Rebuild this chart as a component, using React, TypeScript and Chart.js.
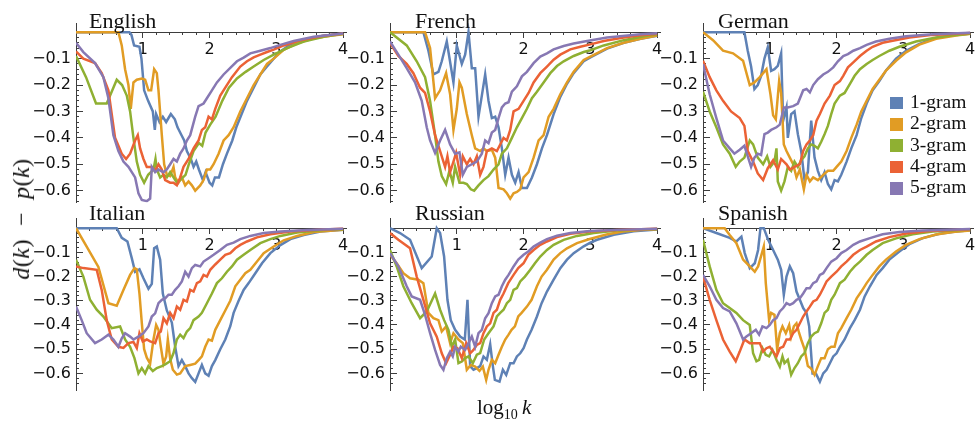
import React, { useEffect, useRef } from 'react';
import { Chart, registerables } from 'chart.js';

Chart.register(...registerables);

// ---------- data ----------
const seriesNames = ['1-gram', '2-gram', '3-gram', '4-gram', '5-gram'];
const seriesColors = ['#5E81B5', '#E19C24', '#8FB032', '#EB6235', '#8778B3'];
const xMajorTicks = [0, 1, 2, 3, 4];
const yMajorTicks = [-0.6, -0.5, -0.4, -0.3, -0.2, -0.1, 0];

const english1 = [[0,0],[0.8,0],[0.83,-0.01],[0.87,-0.05],[0.95,-0.055],[0.98,-0.1],[1.02,-0.22],[1.08,-0.26],[1.15,-0.3],[1.18,-0.37],[1.2,-0.31],[1.25,-0.34],[1.3,-0.32],[1.35,-0.34],[1.42,-0.31],[1.48,-0.33],[1.52,-0.36],[1.58,-0.39],[1.62,-0.41],[1.66,-0.45],[1.72,-0.48],[1.76,-0.51],[1.8,-0.49],[1.84,-0.52],[1.9,-0.56],[1.94,-0.53],[2.0,-0.57],[2.04,-0.58],[2.08,-0.55],[2.14,-0.55],[2.2,-0.5],[2.26,-0.46],[2.34,-0.41],[2.4,-0.36],[2.48,-0.31],[2.56,-0.26],[2.66,-0.21],[2.76,-0.16],[2.86,-0.13],[2.96,-0.1],[3.06,-0.073],[3.2,-0.048],[3.46,-0.025],[3.7,-0.013],[4.0,-0.005]];
const english2 = [[0,0],[0.635,0],[0.685,-0.05],[0.735,-0.14],[0.785,-0.2],[0.82,-0.29],[0.86,-0.19],[0.91,-0.18],[0.985,-0.175],[1.035,-0.18],[1.085,-0.22],[1.125,-0.22],[1.17,-0.14],[1.21,-0.155],[1.235,-0.22],[1.285,-0.39],[1.32,-0.5],[1.36,-0.54],[1.41,-0.545],[1.46,-0.51],[1.485,-0.55],[1.535,-0.57],[1.585,-0.55],[1.635,-0.58],[1.685,-0.565],[1.735,-0.58],[1.785,-0.6],[1.86,-0.58],[1.91,-0.56],[1.96,-0.52],[2.01,-0.52],[2.06,-0.5],[2.135,-0.46],[2.21,-0.41],[2.285,-0.39],[2.36,-0.36],[2.46,-0.3],[2.56,-0.25],[2.66,-0.2],[2.76,-0.16],[2.86,-0.12],[2.96,-0.1],[3.11,-0.067],[3.31,-0.042],[3.56,-0.023],[3.81,-0.013],[4.0,-0.008]];
const english3 = [[0,-0.09],[0.15,-0.17],[0.3,-0.27],[0.46,-0.27],[0.61,-0.18],[0.69,-0.2],[0.76,-0.24],[0.81,-0.3],[0.86,-0.4],[0.91,-0.49],[0.96,-0.54],[1.02,-0.57],[1.08,-0.54],[1.16,-0.52],[1.19,-0.48],[1.21,-0.52],[1.26,-0.55],[1.31,-0.54],[1.36,-0.55],[1.41,-0.53],[1.46,-0.55],[1.51,-0.57],[1.56,-0.56],[1.64,-0.54],[1.69,-0.5],[1.76,-0.45],[1.84,-0.42],[1.89,-0.43],[1.94,-0.38],[2.01,-0.35],[2.09,-0.32],[2.19,-0.26],[2.29,-0.21],[2.41,-0.175],[2.54,-0.15],[2.66,-0.13],[2.81,-0.105],[2.96,-0.085],[3.16,-0.06],[3.41,-0.035],[3.71,-0.017],[4.0,-0.006]];
const english4 = [[0,-0.073],[0.11,-0.1],[0.285,-0.117],[0.385,-0.155],[0.485,-0.22],[0.585,-0.4],[0.685,-0.46],[0.75,-0.48],[0.81,-0.46],[0.885,-0.41],[0.925,-0.39],[0.96,-0.44],[1.01,-0.48],[1.06,-0.51],[1.135,-0.51],[1.185,-0.525],[1.235,-0.5],[1.285,-0.52],[1.335,-0.56],[1.41,-0.57],[1.46,-0.57],[1.51,-0.58],[1.56,-0.55],[1.61,-0.51],[1.685,-0.48],[1.76,-0.44],[1.835,-0.41],[1.885,-0.37],[1.935,-0.36],[1.985,-0.32],[2.035,-0.33],[2.085,-0.29],[2.16,-0.24],[2.235,-0.21],[2.335,-0.17],[2.46,-0.13],[2.56,-0.11],[2.66,-0.095],[2.76,-0.085],[2.86,-0.075],[2.96,-0.066],[3.11,-0.05],[3.36,-0.03],[3.66,-0.015],[4.0,-0.005]];
const english5 = [[0,-0.04],[0.11,-0.075],[0.285,-0.117],[0.41,-0.17],[0.485,-0.25],[0.56,-0.39],[0.635,-0.45],[0.71,-0.49],[0.785,-0.51],[0.885,-0.55],[0.935,-0.61],[0.985,-0.635],[1.06,-0.64],[1.11,-0.63],[1.135,-0.51],[1.185,-0.53],[1.235,-0.52],[1.31,-0.53],[1.36,-0.52],[1.41,-0.5],[1.46,-0.48],[1.51,-0.49],[1.56,-0.46],[1.61,-0.44],[1.66,-0.41],[1.71,-0.39],[1.785,-0.32],[1.835,-0.28],[1.91,-0.27],[1.96,-0.25],[2.035,-0.22],[2.11,-0.19],[2.21,-0.16],[2.31,-0.135],[2.41,-0.11],[2.51,-0.096],[2.61,-0.08],[2.76,-0.07],[2.91,-0.06],[3.06,-0.048],[3.26,-0.033],[3.56,-0.017],[4.0,-0.005]];

const french1 = [[0,0],[0.5,0],[0.575,-0.07],[0.65,-0.16],[0.725,-0.15],[0.775,-0.11],[0.85,-0.035],[0.95,-0.19],[1.0,-0.05],[1.075,-0.12],[1.125,-0.085],[1.175,0],[1.225,-0.136],[1.275,-0.136],[1.325,-0.32],[1.375,-0.24],[1.425,-0.16],[1.475,-0.26],[1.525,-0.325],[1.575,-0.32],[1.625,-0.36],[1.675,-0.44],[1.725,-0.54],[1.775,-0.475],[1.825,-0.54],[1.875,-0.57],[1.925,-0.53],[1.975,-0.59],[2.05,-0.59],[2.125,-0.55],[2.2,-0.5],[2.275,-0.44],[2.35,-0.39],[2.45,-0.31],[2.55,-0.245],[2.65,-0.195],[2.75,-0.155],[2.9,-0.11],[3.0,-0.095],[3.25,-0.062],[3.5,-0.04],[3.75,-0.025],[4.0,-0.013]];
const french2 = [[0,0],[0.525,0],[0.6,-0.06],[0.675,-0.25],[0.75,-0.22],[0.84,-0.155],[0.9,-0.235],[0.95,-0.37],[1.0,-0.29],[1.04,-0.19],[1.075,-0.21],[1.15,-0.31],[1.225,-0.39],[1.275,-0.44],[1.35,-0.45],[1.4,-0.44],[1.45,-0.45],[1.525,-0.445],[1.575,-0.475],[1.625,-0.59],[1.7,-0.595],[1.75,-0.61],[1.8,-0.63],[1.85,-0.61],[1.9,-0.605],[1.95,-0.595],[2.0,-0.55],[2.075,-0.53],[2.15,-0.475],[2.225,-0.41],[2.3,-0.39],[2.375,-0.32],[2.45,-0.29],[2.55,-0.235],[2.65,-0.19],[2.75,-0.15],[2.9,-0.105],[3.0,-0.092],[3.25,-0.06],[3.5,-0.04],[3.75,-0.025],[4.0,-0.012]];
const french3 = [[0,0],[0.1,-0.02],[0.25,-0.05],[0.4,-0.11],[0.525,-0.17],[0.6,-0.26],[0.675,-0.39],[0.725,-0.49],[0.775,-0.545],[0.84,-0.575],[0.89,-0.525],[0.94,-0.57],[0.975,-0.51],[1.04,-0.57],[1.1,-0.57],[1.15,-0.575],[1.21,-0.595],[1.26,-0.6],[1.325,-0.58],[1.4,-0.56],[1.475,-0.545],[1.55,-0.52],[1.625,-0.5],[1.675,-0.46],[1.75,-0.44],[1.825,-0.4],[1.9,-0.36],[1.975,-0.325],[2.05,-0.29],[2.125,-0.25],[2.2,-0.225],[2.3,-0.19],[2.4,-0.155],[2.5,-0.128],[2.6,-0.11],[2.75,-0.09],[2.9,-0.075],[3.0,-0.068],[3.2,-0.05],[3.5,-0.03],[3.8,-0.015],[4.0,-0.008]];
const french4 = [[0,-0.04],[0.125,-0.09],[0.25,-0.12],[0.35,-0.155],[0.45,-0.21],[0.525,-0.23],[0.6,-0.3],[0.675,-0.39],[0.75,-0.45],[0.825,-0.51],[0.86,-0.47],[0.9,-0.53],[0.95,-0.49],[0.99,-0.457],[1.05,-0.54],[1.09,-0.47],[1.15,-0.5],[1.2,-0.48],[1.25,-0.5],[1.3,-0.47],[1.35,-0.54],[1.4,-0.51],[1.45,-0.45],[1.525,-0.44],[1.6,-0.45],[1.65,-0.425],[1.7,-0.4],[1.75,-0.41],[1.8,-0.37],[1.85,-0.3],[1.925,-0.29],[2.0,-0.26],[2.075,-0.23],[2.15,-0.19],[2.25,-0.155],[2.35,-0.13],[2.45,-0.104],[2.55,-0.085],[2.7,-0.065],[2.85,-0.055],[3.0,-0.046],[3.2,-0.033],[3.5,-0.02],[3.8,-0.01],[4.0,-0.006]];
const french5 = [[0,-0.035],[0.125,-0.085],[0.25,-0.136],[0.375,-0.19],[0.475,-0.26],[0.55,-0.36],[0.6,-0.41],[0.675,-0.457],[0.75,-0.41],[0.825,-0.37],[0.9,-0.425],[0.975,-0.46],[1.04,-0.455],[1.09,-0.54],[1.15,-0.51],[1.225,-0.5],[1.3,-0.49],[1.375,-0.46],[1.425,-0.41],[1.475,-0.42],[1.525,-0.38],[1.575,-0.37],[1.625,-0.325],[1.675,-0.285],[1.725,-0.27],[1.775,-0.265],[1.825,-0.225],[1.9,-0.205],[1.975,-0.167],[2.05,-0.15],[2.15,-0.117],[2.25,-0.092],[2.35,-0.08],[2.45,-0.065],[2.6,-0.052],[2.75,-0.043],[2.95,-0.033],[3.25,-0.02],[3.75,-0.008],[4.0,-0.004]];

const german1 = [[0,0],[0.62,0],[0.67,-0.07],[0.72,-0.13],[0.77,-0.215],[0.82,-0.2],[0.87,-0.165],[0.92,-0.1],[0.97,-0.057],[1.02,-0.146],[1.07,-0.14],[1.12,-0.127],[1.17,-0.08],[1.2,-0.335],[1.25,-0.285],[1.27,-0.4],[1.32,-0.31],[1.37,-0.3],[1.42,-0.386],[1.47,-0.45],[1.52,-0.56],[1.57,-0.53],[1.62,-0.335],[1.67,-0.475],[1.72,-0.525],[1.77,-0.56],[1.82,-0.53],[1.87,-0.575],[1.92,-0.595],[1.97,-0.56],[2.02,-0.565],[2.07,-0.54],[2.15,-0.49],[2.22,-0.44],[2.3,-0.39],[2.37,-0.325],[2.45,-0.27],[2.54,-0.22],[2.64,-0.185],[2.74,-0.145],[2.89,-0.1],[3.04,-0.07],[3.24,-0.044],[3.49,-0.022],[3.79,-0.01],[4.0,-0.005]];
const german2 = [[0,0],[0.15,-0.03],[0.3,-0.07],[0.45,-0.08],[0.6,-0.108],[0.7,-0.2],[0.77,-0.19],[0.85,-0.17],[0.95,-0.14],[1.01,-0.235],[1.05,-0.315],[1.09,-0.33],[1.14,-0.185],[1.17,-0.23],[1.21,-0.425],[1.25,-0.45],[1.3,-0.475],[1.35,-0.5],[1.4,-0.55],[1.45,-0.52],[1.51,-0.595],[1.55,-0.54],[1.6,-0.565],[1.65,-0.55],[1.72,-0.56],[1.8,-0.54],[1.87,-0.525],[1.95,-0.525],[2.0,-0.51],[2.07,-0.49],[2.15,-0.45],[2.22,-0.4],[2.3,-0.35],[2.37,-0.3],[2.45,-0.26],[2.54,-0.215],[2.64,-0.18],[2.74,-0.145],[2.89,-0.108],[3.04,-0.076],[3.24,-0.047],[3.49,-0.025],[3.79,-0.012],[4.0,-0.006]];
const german3 = [[0,-0.225],[0.1,-0.3],[0.2,-0.36],[0.3,-0.425],[0.4,-0.46],[0.49,-0.51],[0.55,-0.49],[0.62,-0.475],[0.7,-0.41],[0.75,-0.425],[0.82,-0.475],[0.9,-0.5],[0.96,-0.47],[1.01,-0.51],[1.07,-0.49],[1.1,-0.44],[1.12,-0.565],[1.17,-0.6],[1.22,-0.565],[1.27,-0.51],[1.32,-0.525],[1.37,-0.49],[1.42,-0.51],[1.47,-0.485],[1.52,-0.47],[1.57,-0.44],[1.62,-0.425],[1.67,-0.43],[1.72,-0.44],[1.77,-0.415],[1.82,-0.386],[1.87,-0.355],[1.92,-0.31],[1.97,-0.27],[2.05,-0.24],[2.12,-0.23],[2.2,-0.196],[2.27,-0.165],[2.35,-0.14],[2.45,-0.12],[2.54,-0.105],[2.64,-0.09],[2.79,-0.07],[2.94,-0.055],[3.19,-0.035],[3.49,-0.02],[3.8,-0.01],[4.0,-0.006]];
const german4 = [[0,-0.108],[0.1,-0.17],[0.2,-0.22],[0.3,-0.26],[0.42,-0.3],[0.55,-0.325],[0.62,-0.355],[0.67,-0.45],[0.75,-0.49],[0.82,-0.535],[0.9,-0.56],[0.97,-0.515],[1.05,-0.485],[1.12,-0.52],[1.17,-0.48],[1.25,-0.5],[1.3,-0.52],[1.37,-0.51],[1.45,-0.5],[1.5,-0.45],[1.55,-0.425],[1.6,-0.41],[1.65,-0.39],[1.7,-0.335],[1.75,-0.31],[1.82,-0.27],[1.9,-0.24],[1.97,-0.2],[2.05,-0.185],[2.1,-0.165],[2.17,-0.133],[2.25,-0.114],[2.35,-0.09],[2.45,-0.07],[2.54,-0.055],[2.69,-0.04],[2.84,-0.032],[3.09,-0.02],[3.44,-0.01],[4.0,-0.003]];
const german5 = [[0,-0.12],[0.1,-0.235],[0.2,-0.325],[0.3,-0.41],[0.4,-0.44],[0.47,-0.46],[0.55,-0.445],[0.62,-0.43],[0.67,-0.47],[0.72,-0.51],[0.77,-0.475],[0.82,-0.46],[0.87,-0.465],[0.92,-0.386],[0.97,-0.38],[1.02,-0.37],[1.1,-0.36],[1.15,-0.35],[1.21,-0.285],[1.27,-0.285],[1.35,-0.28],[1.42,-0.27],[1.5,-0.22],[1.55,-0.215],[1.6,-0.228],[1.65,-0.2],[1.72,-0.178],[1.8,-0.16],[1.87,-0.15],[1.95,-0.133],[2.02,-0.11],[2.1,-0.09],[2.17,-0.083],[2.25,-0.07],[2.35,-0.06],[2.45,-0.048],[2.59,-0.035],[2.79,-0.025],[3.04,-0.015],[3.44,-0.008],[4.0,-0.002]];

const italian1 = [[0,0],[0.61,0],[0.685,-0.04],[0.77,-0.055],[0.835,-0.124],[0.885,-0.18],[0.95,-0.17],[1.01,-0.207],[1.085,-0.25],[1.135,-0.23],[1.17,-0.083],[1.21,-0.076],[1.26,-0.13],[1.3,-0.27],[1.36,-0.34],[1.435,-0.39],[1.485,-0.49],[1.535,-0.57],[1.585,-0.545],[1.635,-0.57],[1.685,-0.6],[1.735,-0.62],[1.785,-0.635],[1.835,-0.6],[1.885,-0.565],[1.935,-0.6],[1.985,-0.61],[2.035,-0.57],[2.085,-0.545],[2.16,-0.5],[2.235,-0.46],[2.31,-0.405],[2.36,-0.35],[2.435,-0.3],[2.51,-0.255],[2.585,-0.227],[2.685,-0.186],[2.785,-0.145],[2.91,-0.103],[3.06,-0.07],[3.21,-0.045],[3.41,-0.028],[3.66,-0.014],[4.0,-0.006]];
const italian2 = [[0,0],[0.16,-0.076],[0.335,-0.16],[0.485,-0.31],[0.61,-0.32],[0.71,-0.255],[0.81,-0.193],[0.875,-0.165],[0.91,-0.17],[0.95,-0.27],[0.985,-0.39],[1.02,-0.5],[1.06,-0.535],[1.11,-0.56],[1.16,-0.46],[1.2,-0.4],[1.235,-0.42],[1.27,-0.49],[1.31,-0.56],[1.35,-0.53],[1.375,-0.46],[1.41,-0.54],[1.45,-0.585],[1.51,-0.605],[1.56,-0.6],[1.635,-0.57],[1.71,-0.565],[1.785,-0.56],[1.835,-0.545],[1.885,-0.53],[1.935,-0.49],[1.985,-0.46],[2.035,-0.465],[2.085,-0.42],[2.16,-0.38],[2.235,-0.34],[2.31,-0.3],[2.385,-0.24],[2.46,-0.213],[2.535,-0.186],[2.61,-0.172],[2.71,-0.138],[2.81,-0.103],[2.96,-0.076],[3.11,-0.05],[3.31,-0.032],[3.56,-0.016],[4.0,-0.006]];
const italian3 = [[0,-0.13],[0.11,-0.2],[0.21,-0.296],[0.31,-0.337],[0.41,-0.365],[0.535,-0.413],[0.66,-0.406],[0.735,-0.46],[0.81,-0.49],[0.875,-0.537],[0.935,-0.6],[0.985,-0.578],[1.035,-0.6],[1.085,-0.57],[1.15,-0.59],[1.21,-0.578],[1.285,-0.57],[1.335,-0.563],[1.41,-0.55],[1.46,-0.516],[1.51,-0.46],[1.56,-0.44],[1.61,-0.454],[1.66,-0.427],[1.71,-0.413],[1.76,-0.38],[1.835,-0.365],[1.885,-0.35],[1.96,-0.31],[2.035,-0.27],[2.11,-0.227],[2.185,-0.207],[2.26,-0.18],[2.335,-0.158],[2.41,-0.13],[2.51,-0.11],[2.61,-0.09],[2.76,-0.062],[2.91,-0.045],[3.06,-0.032],[3.31,-0.018],[3.71,-0.008],[4.0,-0.004]];
const italian4 = [[0,-0.158],[0.11,-0.165],[0.31,-0.172],[0.385,-0.255],[0.46,-0.38],[0.535,-0.46],[0.635,-0.49],[0.71,-0.495],[0.785,-0.475],[0.86,-0.47],[0.91,-0.495],[0.95,-0.434],[1.0,-0.468],[1.06,-0.46],[1.11,-0.468],[1.185,-0.475],[1.235,-0.434],[1.27,-0.427],[1.31,-0.372],[1.36,-0.393],[1.41,-0.35],[1.46,-0.372],[1.51,-0.324],[1.56,-0.337],[1.61,-0.296],[1.66,-0.303],[1.71,-0.255],[1.76,-0.262],[1.81,-0.227],[1.86,-0.22],[1.91,-0.193],[1.96,-0.2],[2.01,-0.172],[2.085,-0.15],[2.16,-0.13],[2.235,-0.11],[2.31,-0.103],[2.385,-0.083],[2.46,-0.069],[2.56,-0.055],[2.71,-0.038],[2.91,-0.025],[3.21,-0.014],[3.71,-0.005],[4.0,-0.002]];
const italian5 = [[0,-0.324],[0.085,-0.38],[0.16,-0.434],[0.285,-0.475],[0.385,-0.46],[0.485,-0.44],[0.56,-0.46],[0.635,-0.49],[0.685,-0.455],[0.735,-0.434],[0.81,-0.448],[0.86,-0.46],[0.935,-0.448],[1.01,-0.434],[1.085,-0.406],[1.135,-0.365],[1.185,-0.352],[1.235,-0.31],[1.285,-0.296],[1.335,-0.29],[1.385,-0.275],[1.435,-0.275],[1.485,-0.255],[1.535,-0.24],[1.585,-0.22],[1.635,-0.18],[1.685,-0.2],[1.735,-0.165],[1.785,-0.152],[1.86,-0.158],[1.91,-0.138],[1.985,-0.124],[2.06,-0.11],[2.16,-0.09],[2.26,-0.069],[2.36,-0.06],[2.46,-0.045],[2.61,-0.032],[2.81,-0.02],[3.06,-0.014],[3.46,-0.008],[4.0,-0.002]];

const russian1 = [[0,0],[0.15,-0.02],[0.3,-0.048],[0.475,-0.165],[0.625,-0.117],[0.7,0],[0.75,-0.02],[0.81,-0.117],[0.86,-0.296],[0.91,-0.38],[0.975,-0.42],[1.05,-0.448],[1.12,-0.46],[1.16,-0.296],[1.2,-0.57],[1.25,-0.585],[1.3,-0.578],[1.35,-0.57],[1.4,-0.53],[1.45,-0.544],[1.5,-0.48],[1.54,-0.57],[1.57,-0.627],[1.64,-0.634],[1.69,-0.585],[1.74,-0.606],[1.8,-0.558],[1.85,-0.558],[1.9,-0.53],[1.95,-0.517],[2.0,-0.496],[2.05,-0.46],[2.12,-0.42],[2.2,-0.365],[2.27,-0.31],[2.35,-0.262],[2.45,-0.213],[2.55,-0.165],[2.65,-0.13],[2.75,-0.103],[2.9,-0.075],[3.0,-0.06],[3.1,-0.048],[3.35,-0.027],[3.65,-0.013],[4.0,-0.005]];
const russian2 = [[0,-0.11],[0.1,-0.145],[0.2,-0.186],[0.3,-0.207],[0.425,-0.213],[0.5,-0.227],[0.575,-0.35],[0.65,-0.372],[0.725,-0.38],[0.775,-0.427],[0.84,-0.406],[0.9,-0.475],[0.95,-0.434],[1.025,-0.46],[1.09,-0.475],[1.15,-0.585],[1.21,-0.565],[1.275,-0.572],[1.34,-0.59],[1.39,-0.572],[1.44,-0.627],[1.475,-0.585],[1.525,-0.544],[1.575,-0.558],[1.625,-0.523],[1.675,-0.49],[1.725,-0.46],[1.775,-0.44],[1.82,-0.42],[1.87,-0.406],[1.92,-0.365],[1.97,-0.35],[2.05,-0.324],[2.12,-0.296],[2.2,-0.24],[2.27,-0.2],[2.35,-0.172],[2.45,-0.13],[2.55,-0.103],[2.65,-0.083],[2.8,-0.062],[2.99,-0.045],[3.24,-0.026],[3.49,-0.014],[3.74,-0.008],[4.0,-0.004]];
const russian3 = [[0,-0.09],[0.1,-0.158],[0.2,-0.24],[0.325,-0.31],[0.45,-0.372],[0.55,-0.344],[0.675,-0.27],[0.75,-0.337],[0.81,-0.38],[0.875,-0.42],[0.925,-0.49],[0.975,-0.46],[1.025,-0.558],[1.075,-0.551],[1.125,-0.537],[1.175,-0.53],[1.24,-0.558],[1.3,-0.523],[1.35,-0.516],[1.41,-0.46],[1.475,-0.434],[1.55,-0.406],[1.6,-0.365],[1.65,-0.35],[1.7,-0.337],[1.75,-0.31],[1.8,-0.296],[1.85,-0.255],[1.9,-0.248],[1.95,-0.22],[2.02,-0.2],[2.1,-0.172],[2.17,-0.145],[2.25,-0.117],[2.35,-0.09],[2.45,-0.069],[2.6,-0.048],[2.8,-0.032],[3.05,-0.02],[3.4,-0.01],[4.0,-0.003]];
const russian4 = [[0,-0.02],[0.125,-0.048],[0.3,-0.083],[0.4,-0.2],[0.5,-0.296],[0.6,-0.393],[0.7,-0.448],[0.775,-0.517],[0.84,-0.558],[0.9,-0.523],[0.95,-0.49],[1.01,-0.496],[1.075,-0.537],[1.14,-0.475],[1.2,-0.517],[1.25,-0.503],[1.3,-0.482],[1.35,-0.475],[1.4,-0.434],[1.45,-0.406],[1.5,-0.393],[1.55,-0.35],[1.6,-0.337],[1.65,-0.296],[1.7,-0.27],[1.77,-0.227],[1.85,-0.193],[1.92,-0.165],[2.0,-0.145],[2.07,-0.11],[2.15,-0.09],[2.25,-0.069],[2.35,-0.055],[2.5,-0.037],[2.7,-0.023],[2.99,-0.014],[3.4,-0.008],[4.0,-0.002]];
const russian5 = [[0,-0.103],[0.125,-0.158],[0.25,-0.24],[0.325,-0.282],[0.45,-0.296],[0.525,-0.358],[0.6,-0.434],[0.675,-0.503],[0.75,-0.565],[0.8,-0.585],[0.85,-0.537],[0.9,-0.51],[0.94,-0.53],[0.975,-0.49],[1.025,-0.51],[1.06,-0.49],[1.125,-0.503],[1.175,-0.475],[1.225,-0.448],[1.275,-0.49],[1.325,-0.434],[1.375,-0.42],[1.425,-0.372],[1.475,-0.351],[1.525,-0.31],[1.575,-0.282],[1.625,-0.275],[1.675,-0.24],[1.725,-0.213],[1.775,-0.193],[1.85,-0.158],[1.92,-0.13],[2.0,-0.11],[2.07,-0.096],[2.15,-0.076],[2.25,-0.06],[2.35,-0.045],[2.5,-0.031],[2.7,-0.02],[2.99,-0.012],[3.4,-0.007],[4.0,-0.002]];

const spanish1 = [[0,0],[0.2,-0.02],[0.4,-0.04],[0.5,-0.055],[0.575,-0.035],[0.625,-0.103],[0.7,-0.165],[0.775,-0.145],[0.825,-0.09],[0.86,0],[0.91,0],[0.975,-0.048],[1.05,-0.09],[1.12,-0.13],[1.17,-0.172],[1.21,-0.275],[1.25,-0.2],[1.3,-0.158],[1.35,-0.186],[1.4,-0.262],[1.45,-0.296],[1.5,-0.33],[1.55,-0.35],[1.59,-0.406],[1.64,-0.6],[1.69,-0.6],[1.75,-0.634],[1.8,-0.6],[1.85,-0.585],[1.9,-0.558],[1.95,-0.53],[2.0,-0.517],[2.05,-0.49],[2.12,-0.46],[2.2,-0.413],[2.27,-0.38],[2.35,-0.337],[2.42,-0.282],[2.5,-0.24],[2.6,-0.193],[2.69,-0.165],[2.79,-0.13],[2.94,-0.096],[3.09,-0.066],[3.29,-0.041],[3.54,-0.023],[3.79,-0.014],[4.0,-0.009]];
const spanish2 = [[0,0],[0.325,0],[0.4,-0.028],[0.5,-0.062],[0.6,-0.13],[0.7,-0.158],[0.775,-0.18],[0.825,-0.158],[0.875,-0.11],[0.91,-0.076],[0.94,-0.227],[0.99,-0.38],[1.02,-0.35],[1.07,-0.358],[1.11,-0.5],[1.15,-0.434],[1.19,-0.406],[1.24,-0.434],[1.29,-0.4],[1.32,-0.448],[1.36,-0.406],[1.4,-0.393],[1.44,-0.434],[1.47,-0.46],[1.52,-0.5],[1.57,-0.57],[1.62,-0.58],[1.67,-0.606],[1.72,-0.57],[1.77,-0.537],[1.82,-0.537],[1.87,-0.5],[1.92,-0.49],[1.97,-0.49],[2.02,-0.434],[2.07,-0.413],[2.15,-0.372],[2.22,-0.337],[2.3,-0.29],[2.37,-0.262],[2.45,-0.227],[2.54,-0.193],[2.64,-0.158],[2.74,-0.13],[2.89,-0.096],[3.04,-0.069],[3.24,-0.045],[3.49,-0.026],[3.74,-0.016],[4.0,-0.01]];
const spanish3 = [[0,-0.048],[0.1,-0.158],[0.2,-0.255],[0.3,-0.31],[0.4,-0.33],[0.5,-0.35],[0.6,-0.38],[0.7,-0.4],[0.75,-0.517],[0.8,-0.55],[0.84,-0.544],[0.89,-0.496],[0.94,-0.523],[0.99,-0.53],[1.04,-0.503],[1.1,-0.544],[1.15,-0.572],[1.19,-0.53],[1.22,-0.558],[1.27,-0.544],[1.32,-0.606],[1.37,-0.578],[1.42,-0.558],[1.47,-0.53],[1.52,-0.516],[1.57,-0.475],[1.62,-0.448],[1.67,-0.434],[1.72,-0.427],[1.77,-0.393],[1.82,-0.35],[1.87,-0.337],[1.92,-0.296],[1.97,-0.275],[2.05,-0.227],[2.12,-0.213],[2.2,-0.18],[2.27,-0.158],[2.35,-0.138],[2.45,-0.11],[2.54,-0.09],[2.69,-0.062],[2.89,-0.042],[3.14,-0.025],[3.44,-0.014],[4.0,-0.005]];
const spanish4 = [[0,-0.2],[0.1,-0.296],[0.2,-0.38],[0.3,-0.46],[0.4,-0.51],[0.49,-0.55],[0.55,-0.51],[0.62,-0.46],[0.7,-0.475],[0.77,-0.475],[0.85,-0.475],[0.9,-0.51],[0.95,-0.496],[1.0,-0.49],[1.05,-0.51],[1.1,-0.53],[1.15,-0.496],[1.2,-0.49],[1.25,-0.46],[1.3,-0.46],[1.35,-0.434],[1.4,-0.42],[1.45,-0.393],[1.5,-0.365],[1.55,-0.344],[1.6,-0.324],[1.65,-0.303],[1.7,-0.296],[1.75,-0.275],[1.8,-0.248],[1.85,-0.22],[1.92,-0.2],[2.0,-0.18],[2.07,-0.158],[2.15,-0.138],[2.25,-0.11],[2.35,-0.09],[2.45,-0.076],[2.59,-0.055],[2.79,-0.037],[3.04,-0.022],[3.39,-0.012],[4.0,-0.004]];
const spanish5 = [[0,-0.193],[0.1,-0.24],[0.2,-0.296],[0.3,-0.33],[0.4,-0.344],[0.5,-0.393],[0.6,-0.46],[0.65,-0.448],[0.72,-0.434],[0.79,-0.42],[0.84,-0.44],[0.89,-0.406],[0.95,-0.413],[1.0,-0.4],[1.05,-0.38],[1.1,-0.372],[1.15,-0.344],[1.2,-0.33],[1.25,-0.31],[1.3,-0.317],[1.35,-0.31],[1.4,-0.296],[1.45,-0.29],[1.5,-0.27],[1.55,-0.248],[1.6,-0.248],[1.65,-0.227],[1.7,-0.22],[1.75,-0.193],[1.8,-0.186],[1.85,-0.165],[1.92,-0.138],[2.0,-0.124],[2.07,-0.103],[2.15,-0.09],[2.25,-0.069],[2.35,-0.055],[2.5,-0.041],[2.69,-0.025],[2.94,-0.016],[3.29,-0.01],[4.0,-0.003]];

const panelTitles = ['English', 'French', 'German', 'Italian', 'Russian', 'Spanish'];
const panelSeries = [
  [english1, english2, english3, english4, english5],
  [french1, french2, french3, french4, french5],
  [german1, german2, german3, german4, german5],
  [italian1, italian2, italian3, italian4, italian5],
  [russian1, russian2, russian3, russian4, russian5],
  [spanish1, spanish2, spanish3, spanish4, spanish5],
];

// ---------- layout ----------
const X_MAX = 4.05;
const AXIS_W = 60;
const CANVAS_W = 346;
const PLOT_W = 270.5;
const COL_LEFT = [76, 390, 703];
const TITLE_LEFT = [89, 415, 718];
const ROWS = [
  { canvasTop: 0, canvasH: 220, padTop: 23, yMin: -0.645, yMax: 0.035, pxPerUnit: 264, titleTop: 9.9 },
  { canvasTop: 200, canvasH: 215, padTop: 18.5, yMin: -0.67, yMax: 0.04, pxPerUnit: 242, titleTop: 202.3 },
];
const AXIS_COLOR = '#3d3d3d';
const TICK_FONT = { family: "'DejaVu Sans', sans-serif", size: 16 };
const SERIF = "'Liberation Serif', 'Times New Roman', serif";

function range(from: number, to: number, div: number) {
  const out: number[] = [];
  for (let i = from; i <= to; i++) out.push(i / div);
  return out;
}

function Panel({ index }: { index: number }) {
  const ref = useRef<HTMLCanvasElement>(null);
  const row = ROWS[Math.floor(index / 3)];
  const col = index % 3;
  const chartH = (row.yMax - row.yMin) * row.pxPerUnit;
  const padBottom = row.canvasH - row.padTop - chartH;
  const padRight = CANVAS_W - AXIS_W - PLOT_W;

  useEffect(() => {
    const datasets = panelSeries[index].map((pts, i) => ({
      label: seriesNames[i],
      data: pts.map(([x, y]) => ({ x, y })),
      borderColor: seriesColors[i],
      backgroundColor: seriesColors[i],
      borderWidth: 2.5,
      pointRadius: 0,
      tension: 0,
      fill: false,
      order: 5 - i,
      xAxisID: 'x',
      yAxisID: 'y',
    }));
    const chart = new Chart(ref.current as HTMLCanvasElement, {
      type: 'line',
      data: { datasets },
      options: {
        animation: false,
        responsive: false,
        maintainAspectRatio: false,
        events: [],
        layout: { padding: { left: 0, right: padRight, top: row.padTop, bottom: padBottom } },
        plugins: { legend: { display: false }, tooltip: { enabled: false }, title: { display: false } },
        scales: {
          x: {
            type: 'linear',
            min: 0,
            max: X_MAX,
            position: { y: 0 },
            afterBuildTicks: (s: any) => { s.ticks = xMajorTicks.map((v) => ({ value: v })); },
            ticks: {
              font: TICK_FONT,
              color: '#111',
              padding: 3,
              maxRotation: 0,
              autoSkip: false,
              callback: (v: any) => (Number(v) === 0 ? '' : String(v)),
            },
            grid: { drawOnChartArea: false, drawTicks: true, tickLength: 5, tickColor: AXIS_COLOR, tickWidth: 1 },
            border: { display: true, color: AXIS_COLOR, width: 1 },
          },
          xMinor: {
            type: 'linear',
            min: 0,
            max: X_MAX,
            position: { y: 0 },
            afterBuildTicks: (s: any) => { s.ticks = range(0, 20, 5).map((v) => ({ value: v })); },
            ticks: { display: false },
            grid: { drawOnChartArea: false, drawTicks: true, tickLength: 3, tickColor: AXIS_COLOR, tickWidth: 1 },
            border: { display: false },
          },
          y: {
            type: 'linear',
            min: row.yMin,
            max: row.yMax,
            position: 'left',
            afterFit: (s: any) => { s.width = AXIS_W; },
            afterBuildTicks: (s: any) => { s.ticks = yMajorTicks.map((v) => ({ value: v })); },
            ticks: {
              font: TICK_FONT,
              color: '#111',
              padding: 5,
              autoSkip: false,
              callback: (v: any) => (Math.abs(Number(v)) < 1e-9 ? '' : '\u2212' + Math.abs(Number(v)).toFixed(1)),
            },
            grid: { drawOnChartArea: true, drawTicks: false, color: AXIS_COLOR, lineWidth: 1 },
            border: { display: true, color: AXIS_COLOR, width: 1, dash: [6, 4000] },
          },
          yMinor: {
            type: 'linear',
            min: row.yMin,
            max: row.yMax,
            position: 'left',
            afterFit: (s: any) => { s.width = 0; },
            afterBuildTicks: (s: any) => { s.ticks = range(-32, 0, 50).map((v) => ({ value: v })); },
            ticks: { display: false },
            grid: { drawOnChartArea: true, drawTicks: false, color: AXIS_COLOR, lineWidth: 1 },
            border: { display: false, dash: [3, 4000] },
          },
        },
      } as any,
    });
    return () => chart.destroy();
  }, []);

  return (
    <>
      <canvas
        ref={ref}
        width={CANVAS_W}
        height={row.canvasH}
        style={{ position: 'absolute', left: COL_LEFT[col] - AXIS_W, top: row.canvasTop, width: CANVAS_W, height: row.canvasH }}
      />
      <div
        style={{
          position: 'absolute', left: TITLE_LEFT[col], top: row.titleTop, fontFamily: SERIF,
          fontSize: 22, lineHeight: 1, color: '#111', whiteSpace: 'nowrap',
        }}
      >
        {panelTitles[index]}
      </div>
    </>
  );
}

function Legend() {
  return (
    <>
      {seriesNames.map((name, i) => {
        const cy = 103 + i * 21.3;
        return (
          <React.Fragment key={name}>
            <div style={{ position: 'absolute', left: 890, top: cy - 6.3, width: 12.7, height: 12.7, background: seriesColors[i] }} />
            <div style={{ position: 'absolute', left: 910, top: cy - 11, fontFamily: SERIF, fontSize: 19.5, lineHeight: 1, color: '#111', whiteSpace: 'nowrap' }}>
              {name}
            </div>
          </React.Fragment>
        );
      })}
    </>
  );
}

export default function App() {
  return (
    <div style={{ position: 'absolute', left: 0, top: 0, width: 976, height: 425, overflow: 'hidden', background: '#fff' }}>
      {[0, 1, 2, 3, 4, 5].map((i) => <Panel key={i} index={i} />)}
      <Legend />
      <div
        style={{
          position: 'absolute', left: 21, top: 219, transform: 'translate(-50%, -50%) rotate(-90deg)',
          fontFamily: SERIF, fontSize: 24, lineHeight: 1, color: '#111', whiteSpace: 'nowrap', letterSpacing: 0.5,
        }}
      >
        <i>d</i>(<i>k</i>)&nbsp;&nbsp;&minus;&nbsp;&nbsp;<i>p</i>(<i>k</i>)
      </div>
      <div
        style={{
          position: 'absolute', left: 477, top: 397.4, fontFamily: SERIF, fontSize: 21, lineHeight: 1,
          color: '#111', whiteSpace: 'nowrap',
        }}
      >
        log<span style={{ fontSize: 14, verticalAlign: '-5px' }}>10</span>&thinsp;<i>k</i>
      </div>
    </div>
  );
}
